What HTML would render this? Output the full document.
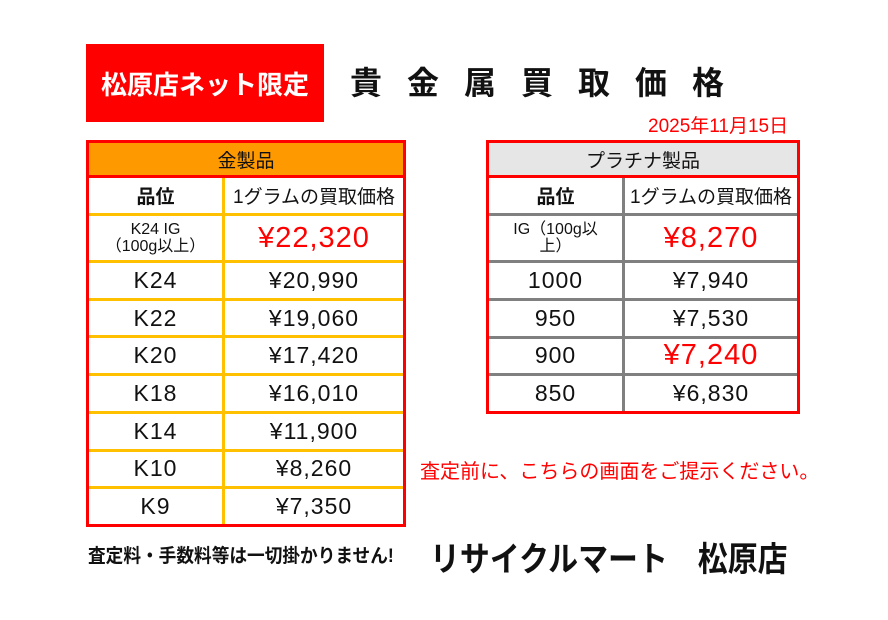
<!DOCTYPE html>
<html><head><meta charset="utf-8"><style>
*{margin:0;padding:0;box-sizing:border-box}
body{width:888px;height:620px;background:#fff;position:relative;overflow:hidden;font-family:"Liberation Sans","Noto Sans CJK JP",sans-serif;color:#111}
.abs{position:absolute;white-space:nowrap}
.tbl{position:absolute;border:3px solid #f00;display:flex;flex-direction:column}
.hd{height:35px;display:flex;align-items:center;justify-content:center;font-size:19px;border-bottom:3px solid #f00;flex:none}
.row{display:flex;flex:1}
.row.fix{flex:none}
.row>div{display:flex;align-items:center;justify-content:center;text-align:center}
.row>div:first-child{width:136px;flex:none}
.row>div:last-child{flex:1}
.g .row+.row{border-top:3px solid #FFC000}
.g .row>div:first-child{border-right:3px solid #FFC000}
.p .row+.row{border-top:3px solid #808080}
.p .row>div:first-child{border-right:3px solid #808080}
.v{font-size:23px;letter-spacing:1px}
.r{font-size:29px;color:#f00;letter-spacing:1px}
.lb{font-size:19px;font-weight:bold}
</style></head><body>
<div class="abs" style="left:86px;top:44px;width:238px;height:78px;background:#f00;color:#fff;font-weight:bold;font-size:26px;display:flex;align-items:center;justify-content:center">松原店ネット限定</div>
<div class="abs" style="left:350px;top:58px;font-size:32px;font-weight:bold;letter-spacing:25px">貴金属買取価格</div>
<div class="abs" style="left:648px;top:111px;font-size:19px;color:#f00">2025年11月15日</div>

<div class="tbl g" style="left:86px;top:140px;width:320px;height:387px">
<div class="hd" style="background:#FF9900">金製品</div>
<div class="row fix" style="height:35px"><div class="lb">品位</div><div style="font-size:19px">1グラムの買取価格</div></div>
<div class="row fix" style="height:47px"><div style="font-size:16px;line-height:17px">K24 IG<br>（100g以上）</div><div class="r">¥22,320</div></div>
<div class="row"><div class="v">K24</div><div class="v">¥20,990</div></div>
<div class="row"><div class="v">K22</div><div class="v">¥19,060</div></div>
<div class="row"><div class="v">K20</div><div class="v">¥17,420</div></div>
<div class="row"><div class="v">K18</div><div class="v">¥16,010</div></div>
<div class="row"><div class="v">K14</div><div class="v">¥11,900</div></div>
<div class="row"><div class="v">K10</div><div class="v">¥8,260</div></div>
<div class="row"><div class="v">K9</div><div class="v">¥7,350</div></div>
</div>

<div class="tbl p" style="left:486px;top:140px;width:314px;height:274px">
<div class="hd" style="background:#E7E6E6">プラチナ製品</div>
<div class="row fix" style="height:35px"><div class="lb">品位</div><div style="font-size:19px">1グラムの買取価格</div></div>
<div class="row fix" style="height:47px"><div style="font-size:16px;line-height:17px">IG（100g以<br>上）</div><div class="r">¥8,270</div></div>
<div class="row"><div class="v">1000</div><div class="v">¥7,940</div></div>
<div class="row"><div class="v">950</div><div class="v">¥7,530</div></div>
<div class="row"><div class="v">900</div><div class="r">¥7,240</div></div>
<div class="row"><div class="v">850</div><div class="v">¥6,830</div></div>
</div>

<div class="abs" style="left:420px;top:455px;font-size:20px;color:#f00">査定前に、こちらの画面をご提示ください。</div>
<div class="abs" style="left:88px;top:541px;font-size:19px;font-weight:bold;transform:scaleX(0.93);transform-origin:left">査定料・手数料等は一切掛かりません!</div>
<div class="abs" style="left:430px;top:532px;font-size:34px;font-weight:bold;transform:scaleX(0.88);transform-origin:left">リサイクルマート　松原店</div>
</body></html>
